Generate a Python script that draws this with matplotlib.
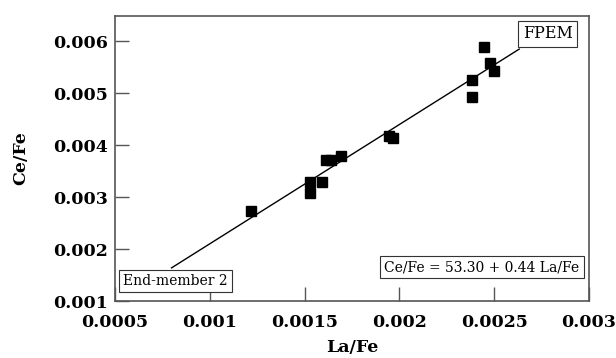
import numpy as np
import matplotlib.pyplot as plt

la_fe = [0.001216, 0.00153, 0.00153, 0.00159, 0.001612, 0.00164, 0.001691,
         0.001947, 0.001965, 0.002447, 0.002477, 0.0025, 0.002383, 0.002383]
ce_fe = [0.002738, 0.0033, 0.003082, 0.0033, 0.003715, 0.003715, 0.003784,
         0.00418, 0.004136, 0.00589, 0.005584, 0.005425, 0.005266, 0.004927]

# mixing line, End-member 2 -> FPEM
line_x = [0.000798, 0.002632]
line_y = [0.001638, 0.005853]

xticks = [0.0005, 0.001, 0.0015, 0.002, 0.0025, 0.003]
xtick_labels = ['0.0005', '0.001', '0.0015', '0.002', '0.0025', '0.003']
yticks = [0.001, 0.002, 0.003, 0.004, 0.005, 0.006]
ytick_labels = ['0.001', '0.002', '0.003', '0.004', '0.005', '0.006']

plt.rcParams['font.family'] = 'DejaVu Serif'

fig = plt.figure(figsize=(6.16, 3.58), dpi=100)
ax = fig.add_axes([0.1867, 0.1592, 0.7695, 0.7975])

ax.plot(line_x, line_y, color='black', lw=1.0)
ax.plot(la_fe, ce_fe, 's', color='black', ms=6.5, ls='none')

ax.set_xlim(0.0005, 0.003)
ax.set_ylim(0.001, 0.0065)
ax.set_xticks(xticks)
ax.set_xticklabels(xtick_labels, fontsize=12.5, fontweight='bold')
ax.set_yticks(yticks)
ax.set_yticklabels(ytick_labels, fontsize=12.5, fontweight='bold')
ax.tick_params(direction='in', length=10, width=1, color='#555555')
ax.tick_params(axis='x', pad=9)
ax.tick_params(axis='y', pad=5)
for s in ax.spines.values():
    s.set_color('#555555')
    s.set_linewidth(1.2)

ax.set_xlabel('La/Fe', fontsize=12.5, fontweight='bold', labelpad=6)
ax.set_ylabel('Ce/Fe', fontsize=12.5, fontweight='bold', labelpad=17)

box = dict(boxstyle='square,pad=0.3', fc='white', ec='#333333', lw=0.8)
ax.text(0.00265, 0.00598, 'FPEM', fontsize=11.5, ha='left', va='bottom',
        bbox=box, zorder=5)
ax.text(0.000543, 0.00125, 'End-member 2', fontsize=10, ha='left', va='bottom',
        bbox=box, zorder=5)
ax.text(0.00295, 0.00152, 'Ce/Fe = 53.30 + 0.44 La/Fe', fontsize=10,
        ha='right', va='bottom', bbox=box, zorder=5)

fig.savefig('out.png', dpi=100)
